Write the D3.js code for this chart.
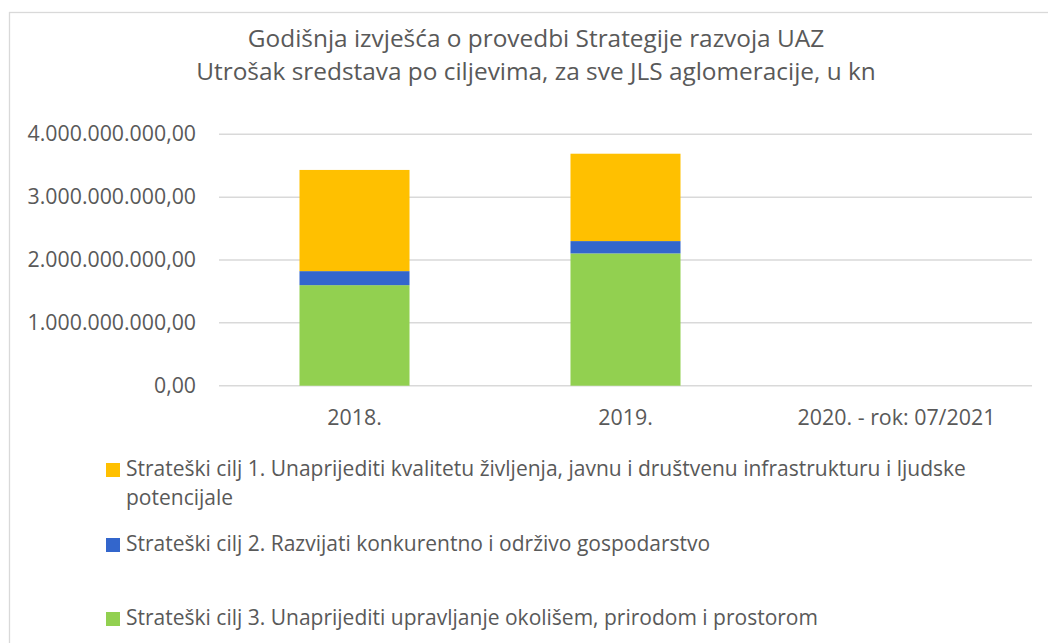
<!DOCTYPE html>
<html>

<head>
    <meta charset="UTF-8">
    <script src="https://d3js.org/d3.v7.min.js"></script>
    <style>
        body { margin: 0; background: #fff; }
        text { font-family: "Open Sans", sans-serif; fill: #595959; }
    </style>
</head>

<body>
    <svg></svg>

    <script>
        let width = 1048, height = 643;

        // data
        let categories = ["2018.", "2019.", "2020. - rok: 07/2021"];
        let cilj1 = [1610000000, 1390000000, 0];
        let cilj2 = [223000000, 196000000, 0];
        let cilj3 = [1600000000, 2105000000, 0];
        let seriesNames = [
            "Strateški cilj 1. Unaprijediti kvalitetu življenja, javnu i društvenu infrastrukturu i ljudske potencijale",
            "Strateški cilj 2. Razvijati konkurentno i održivo gospodarstvo",
            "Strateški cilj 3. Unaprijediti upravljanje okolišem, prirodom i prostorom"
        ];
        let seriesColors = ["#FFC000", "#3366CC", "#92D050"];
        let yTicks = [0, 1000000000, 2000000000, 3000000000, 4000000000];
        let titleLines = [
            "Godišnja izvješća o provedbi Strategije razvoja UAZ",
            "Utrošak sredstava po ciljevima, za sve JLS aglomeracije, u kn"
        ];

        let svg = d3.select("svg")
            .attr("width", width)
            .attr("height", height)

        // chart border
        svg.append("rect")
            .attr("x", 9.5).attr("y", 12.5)
            .attr("width", width).attr("height", height)
            .attr("fill", "#fff")
            .attr("stroke", "#d9d9d9")
            .attr("stroke-width", 1.3)

        // title
        svg.append("g").selectAll("text")
            .data(titleLines)
            .join("text")
            .attr("x", 536)
            .attr("y", (d, i) => 47 + i * 33)
            .attr("text-anchor", "middle")
            .style("font-size", "24.4px")
            .text(d => d)

        let x = d3.scaleBand()
            .domain(categories)
            .range([219, 1032])
            .paddingInner(0.594)
            .paddingOuter(0.297)

        let y = d3.scaleLinear()
            .domain([0, 4000000000])
            .range([385.7, 134.3])

        let fmt = v => d3.format(",.2f")(v).replace(/,/g, "#").replace(".", ",").replace(/#/g, ".");

        // gridlines
        svg.append("g")
            .selectAll("line")
            .data(yTicks)
            .join("line")
            .attr("x1", 219).attr("x2", 1032)
            .attr("y1", d => y(d)).attr("y2", d => y(d))
            .attr("stroke", "#d9d9d9")
            .attr("stroke-width", 1.5)

        // y axis labels
        svg.append("g")
            .selectAll("text")
            .data(yTicks)
            .join("text")
            .attr("x", 196)
            .attr("y", d => y(d) + 7)
            .attr("text-anchor", "end")
            .style("font-size", "21.3px")
            .text(d => fmt(d))

        // x axis labels
        svg.append("g")
            .selectAll("text")
            .data(categories)
            .join("text")
            .attr("x", d => x(d) + x.bandwidth() / 2)
            .attr("y", 425)
            .attr("text-anchor", "middle")
            .style("font-size", "21.4px")
            .text(d => d)

        // stacked bars, cilj 3 at bottom
        let rows = categories.map((c, i) => ({ cat: c, c1: cilj1[i], c2: cilj2[i], c3: cilj3[i] }));
        let stack = d3.stack().keys(["c3", "c2", "c1"]);
        let layers = stack(rows);
        let colorOf = { c1: seriesColors[0], c2: seriesColors[1], c3: seriesColors[2] };

        svg.append("g")
            .selectAll("g")
            .data(layers)
            .join("g")
            .attr("fill", d => colorOf[d.key])
            .selectAll("rect")
            .data(d => d)
            .join("rect")
            .attr("x", d => x(d.data.cat))
            .attr("width", x.bandwidth())
            .attr("y", d => y(d[1]))
            .attr("height", d => y(d[0]) - y(d[1]))

        // legend
        let legendY = [476, 551, 625];
        let legend = svg.append("g")
        seriesNames.forEach((name, i) => {
            let g = legend.append("g")
            g.append("rect")
                .attr("x", 106).attr("y", legendY[i] - 13)
                .attr("width", 14).attr("height", 14)
                .attr("fill", seriesColors[i])
            let t = g.append("text")
                .attr("x", 126)
                .attr("y", legendY[i])
                .style("font-size", "21px")
            // wrap words
            let words = name.split(" "), line = [];
            let tspan = t.append("tspan").attr("x", 126).attr("dy", 0);
            words.forEach(w => {
                line.push(w);
                tspan.text(line.join(" "));
                if (tspan.node().getComputedTextLength() > 870 && line.length > 1) {
                    line.pop();
                    tspan.text(line.join(" "));
                    line = [w];
                    tspan = t.append("tspan").attr("x", 126).attr("dy", 29).text(w);
                }
            });
        });
    </script>

</body>

</html>
